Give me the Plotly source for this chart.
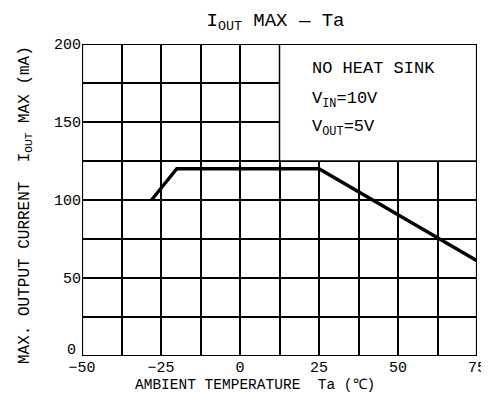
import plotly.graph_objects as go

# Data
temp_c = [-28, -20, 25, 75]
iout_ma = [100, 120, 120, 61]
x_tick_vals = [-50, -25, 0, 25, 50, 75]
y_tick_vals = [50, 100, 150, 200]
note_lines = ["NO HEAT SINK", "V<sub>IN</sub>=10V", "V<sub>OUT</sub>=5V"]
note_y = [184, 164, 146]

FONT = "Liberation Mono, DejaVu Sans Mono, monospace"
# page body has an 8px margin; size the figure so it fits the 489x402 window
W, H = 481, 394
L, R, T, B = 74, 12, 36, 46
PW, PH = W - L - R, H - T - B


def px_to_paper(xp, yp):
    """reference-image pixel -> plot-area paper coords"""
    return (xp - 8 - L) / PW, 1 - (yp - 8 - T) / PH


fig = go.Figure()
fig.add_trace(go.Scatter(
    x=temp_c, y=iout_ma, mode="lines",
    line=dict(color="black", width=3.4),
    hoverinfo="skip", showlegend=False,
))

fig.update_layout(
    width=W, height=H,
    margin=dict(l=L, r=R, t=T, b=B, autoexpand=False),
    paper_bgcolor="white", plot_bgcolor="white",
    font=dict(family=FONT, color="black", size=15),
    title=dict(
        text="I<sub>OUT</sub> MAX — Ta",
        xref="paper", x=0.49, xanchor="center",
        yref="container", y=1 - 11 / H, yanchor="middle",
        font=dict(family=FONT, size=19, color="black"),
    ),
    showlegend=False,
)

fig.update_xaxes(
    range=[-50, 75], tickvals=x_tick_vals, ticks="", automargin=False,
    showgrid=True, gridcolor="black", gridwidth=1.5,
    minor=dict(dtick=12.5, tick0=-50, showgrid=True, gridcolor="black", gridwidth=1.5, ticks=""),
    zeroline=False, showline=False,
    tickfont=dict(family=FONT, size=15),
    fixedrange=True,
)
fig.update_yaxes(
    range=[0, 200], tickvals=y_tick_vals, ticks="", automargin=False,
    showgrid=True, gridcolor="black", gridwidth=1.5,
    minor=dict(dtick=25, tick0=0, showgrid=True, gridcolor="black", gridwidth=1.5, ticks=""),
    zeroline=False, showline=False,
    tickfont=dict(family=FONT, size=15),
    fixedrange=True,
)

# y-axis "0" label sits a little above the axis corner in the reference
fig.add_annotation(x=0, y=0, xref="paper", yref="y", text="0", showarrow=False,
                   xanchor="right", yanchor="middle", xshift=-4, yshift=6,
                   font=dict(family=FONT, size=15, color="black"))

# Axis titles
xt_x, xt_y = px_to_paper(255, 385)
fig.add_annotation(x=xt_x, y=xt_y, xref="paper", yref="paper",
                   text="AMBIENT TEMPERATURE  Ta (℃)", showarrow=False,
                   xanchor="center", yanchor="middle",
                   font=dict(family=FONT, size=14.5, color="black"))
yt_x, yt_y = px_to_paper(25, 205)
fig.add_annotation(x=yt_x, y=yt_y, xref="paper", yref="paper",
                   text="MAX. OUTPUT CURRENT  I<sub>OUT</sub> MAX (mA)", showarrow=False,
                   textangle=-90, xanchor="center", yanchor="middle",
                   font=dict(family=FONT, size=16, color="black"))

# White note box covering the grid in the upper-right region
fig.add_shape(type="rect", xref="x", yref="y", x0=12.5, x1=75, y0=125, y1=200,
              fillcolor="white", line=dict(color="black", width=1.5), layer="above")
# Plot border
fig.add_shape(type="rect", xref="x", yref="y", x0=-50, x1=75, y0=0, y1=200,
              fillcolor="rgba(0,0,0,0)", line=dict(color="black", width=2.2), layer="above")

for txt, yy in zip(note_lines, note_y):
    fig.add_annotation(x=22, y=yy, xref="x", yref="y", text=txt, showarrow=False,
                       xanchor="left", yanchor="middle",
                       font=dict(family=FONT, size=17, color="black"))

fig.write_html("out.html")
